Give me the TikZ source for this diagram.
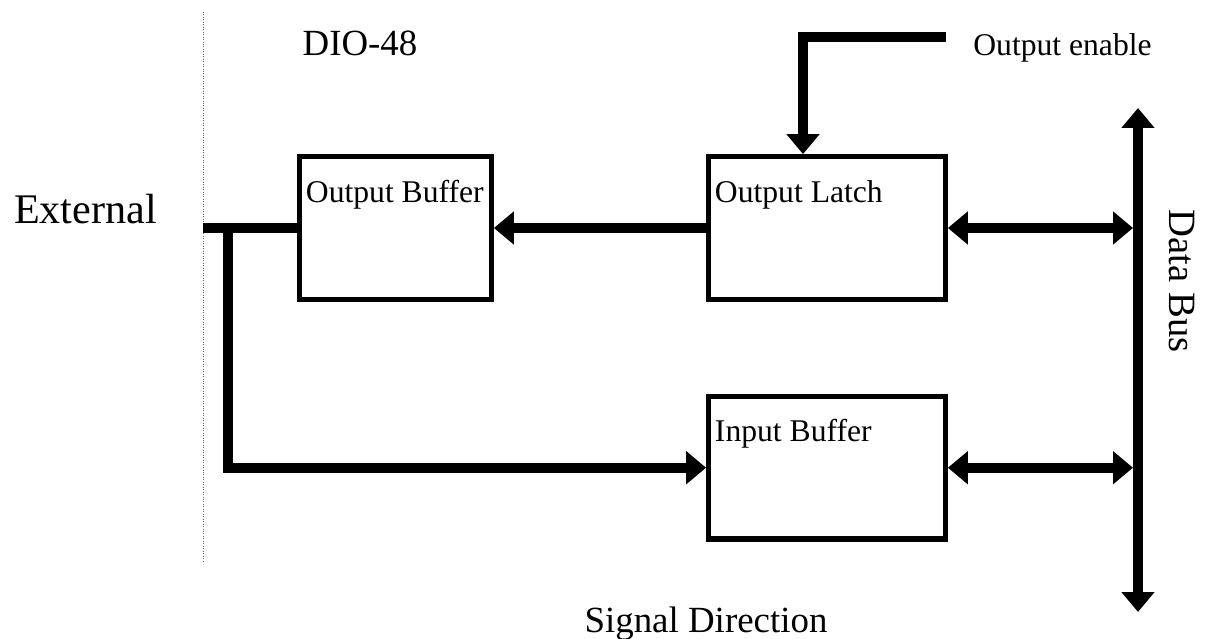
\documentclass[tikz,border=0pt]{standalone}
\usepackage{fontspec}
\setmainfont{Liberation Serif}
\usetikzlibrary{arrows.meta,positioning}

\begin{document}
\begin{tikzpicture}[x=0.02cm,y=-0.02cm]
		\tikzstyle{block}=[draw=black, line width=3pt, minimum height=2.85cm, inner sep=0]
		\tikzstyle{block_text}=[anchor=base west, inner sep=0, font=\fontsize{18}{20}\selectfont]
		\tikzstyle{title_text}=[anchor=base, inner sep=0, font=\fontsize{21}{24}\selectfont]
		\tikzstyle{bus}=[line width=0.2cm]
		\tikzstyle{bus_to}=[bus, -{Triangle[length=0.4cm,width=0.64cm]}]
		\tikzstyle{bus_both}=[bus, {Triangle[length=0.4cm,width=0.64cm]}-{Triangle[length=0.4cm,width=0.64cm]}]

		\useasboundingbox (0,0) rectangle (1205,639);

		% boundary of the board
		\coordinate (edge_top) at (203,12);
		\coordinate (edge_bot) at (203,562);
		\draw[black!60, densely dotted, thin] (edge_top) -- (edge_bot);

		% blocks
		\node [block, minimum width=3.83cm] (OB) at (395.5,228) {};
		\node [block, minimum width=4.73cm] (OL) at (827,228) {};
		\node [block, minimum width=4.73cm] (IB) [below=1.84cm of OL] {};

		\node [block_text] (OB_text) at ([xshift=0.17cm,yshift=-0.96cm]OB.north west) {Output Buffer};
		\node [block_text] (OL_text) at ([xshift=0.17cm,yshift=-0.96cm]OL.north west) {Output Latch};
		\node [block_text] (IB_text) at ([xshift=0.17cm,yshift=-0.96cm]IB.north west) {Input Buffer};

		% labels
		\node [anchor=base, inner sep=0, font=\fontsize{24}{28}\selectfont] (external) at (85.5,223) {External};
		\node [title_text] (dio) at (360,55) {DIO-48};
		\node [title_text] (signal) at (706,632) {Signal Direction};
		\node [block_text] (oe_text) at (973,55) {Output enable};
		\node [anchor=base, inner sep=0, rotate=-90, font=\fontsize{22}{26}\selectfont] (databus) at (1169,281) {Data Bus};

		% data bus
		\coordinate (bus_top) at (1138,108);
		\coordinate (bus_bot) at (1138,612);
		\coordinate (bus_left) at (1133,0);
		\draw[bus_both] (bus_top) -- (bus_bot);

		% connections
		\coordinate (ext) at (203,228);
		\coordinate (tee) at (228,228);
		\coordinate (oe) at (946,37);
		\coordinate (oe_in) at ([xshift=-0.48cm]OL.north);

		\draw[bus] (ext) -- (OB.west);
		\draw[bus_to] (tee) |- (IB.west);
		\draw[bus_to] (OL.west) -- (OB.east);
		\draw[bus_to] (oe) -| (oe_in);
		\draw[bus_both] (OL.east) -- (OL.east -| bus_left);
		\draw[bus_both] (IB.east) -- (IB.east -| bus_left);

	\end{tikzpicture}
\end{document}
